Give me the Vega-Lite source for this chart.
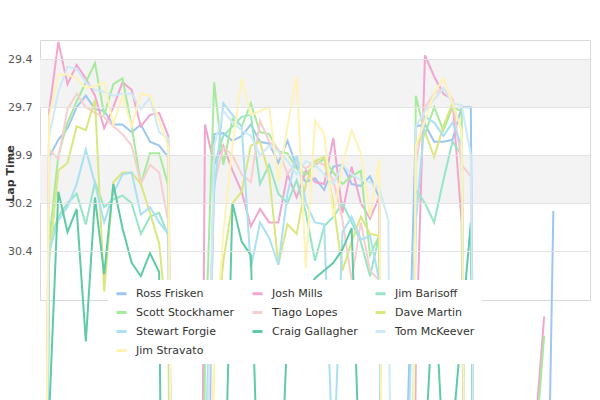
{
  "$schema": "https://vega.github.io/schema/vega-lite/v6.json",
  "width": 550,
  "height": 260,
  "autosize": {"type": "none"},
  "padding": {"left": 40, "top": 40, "right": 10, "bottom": 100},
  "background": "white",
  "config": {"view": {"stroke": "#d9d9d9"}, "font": "DejaVu Sans"},
  "layer": [
    {
      "data": {"values": [{"lo": 29.45, "hi": 29.7}, {"lo": 29.95, "hi": 30.2}]},
      "mark": {"type": "rect", "color": "#f3f3f3"},
      "encoding": {
        "y": {"field": "lo", "type": "quantitative",
          "scale": {"domain": [29.35, 30.704], "reverse": true, "nice": false, "zero": false},
          "axis": {"title": "Lap Time", "values": [29.45, 29.7, 29.95, 30.2, 30.45], "labelExpr": "format(datum.value - 0.01, '.1f')", "grid": true, "gridColor": "#e3e3e3", "domain": false, "ticks": false, "labelPadding": 8, "labelFontSize": 11, "labelColor": "#555555", "labelFont": "DejaVu Sans", "titleFont": "DejaVu Sans", "titleFontSize": 11, "titleFontWeight": "bold", "titleColor": "#333333", "titleX": -30, "titleY": 133, "titleAngle": 270, "titleAlign": "center", "titleBaseline": "middle", "zindex": 1}},
        "y2": {"field": "hi"}
      }
    },
    {
      "data": {"values": [
        {"lap": 1, "Ross Frisken": 36, "Josh Mills": 36, "Jim Barisoff": 36, "Scott Stockhamer": 36, "Tiago Lopes": 36, "Dave Martin": 36, "Stewart Forgie": 36, "Craig Gallagher": 36, "Tom McKeever": 36, "Jim Stravato": 36},
        {"lap": 2, "Ross Frisken": 29.96, "Josh Mills": 29.72, "Jim Barisoff": 30.4, "Scott Stockhamer": 30.4, "Tiago Lopes": 29.92, "Dave Martin": 30.5, "Stewart Forgie": 30.45, "Craig Gallagher": 31.3, "Tom McKeever": 29.85, "Jim Stravato": 29.75},
        {"lap": 3, "Ross Frisken": 29.87, "Josh Mills": 29.36, "Jim Barisoff": 30.27, "Scott Stockhamer": 29.95, "Tiago Lopes": 29.97, "Dave Martin": 30.03, "Stewart Forgie": 30.29, "Craig Gallagher": 30.14, "Tom McKeever": 29.62, "Jim Stravato": 29.53},
        {"lap": 4, "Ross Frisken": 29.81, "Josh Mills": 29.58, "Jim Barisoff": 30.2, "Scott Stockhamer": 29.78, "Tiago Lopes": 29.71, "Dave Martin": 29.99, "Stewart Forgie": 30.22, "Craig Gallagher": 30.35, "Tom McKeever": 29.49, "Jim Stravato": 29.53},
        {"lap": 5, "Ross Frisken": 29.7, "Josh Mills": 29.48, "Jim Barisoff": 30.15, "Scott Stockhamer": 29.67, "Tiago Lopes": 29.63, "Dave Martin": 29.8, "Stewart Forgie": 30.1, "Craig Gallagher": 30.23, "Tom McKeever": 29.5, "Jim Stravato": 29.55},
        {"lap": 6, "Ross Frisken": 29.64, "Josh Mills": 29.55, "Jim Barisoff": 30.31, "Scott Stockhamer": 29.57, "Tiago Lopes": 29.7, "Dave Martin": 29.82, "Stewart Forgie": 29.92, "Craig Gallagher": 30.92, "Tom McKeever": 29.57, "Jim Stravato": 29.6},
        {"lap": 7, "Ross Frisken": 29.71, "Josh Mills": 29.64, "Jim Barisoff": 30.09, "Scott Stockhamer": 29.47, "Tiago Lopes": 29.73, "Dave Martin": 29.66, "Stewart Forgie": 30.1, "Craig Gallagher": 30.17, "Tom McKeever": 29.61, "Jim Stravato": 29.59},
        {"lap": 8, "Ross Frisken": 29.72, "Josh Mills": 29.81, "Jim Barisoff": 30.22, "Scott Stockhamer": 29.74, "Tiago Lopes": 29.75, "Dave Martin": 30.66, "Stewart Forgie": 30.3, "Craig Gallagher": 30.57, "Tom McKeever": 29.62, "Jim Stravato": 29.57},
        {"lap": 9, "Ross Frisken": 29.79, "Josh Mills": 29.7, "Jim Barisoff": 30.18, "Scott Stockhamer": 29.58, "Tiago Lopes": 29.8, "Dave Martin": 30.09, "Stewart Forgie": 30.15, "Craig Gallagher": 30.1, "Tom McKeever": 29.64, "Jim Stravato": 29.79},
        {"lap": 10, "Ross Frisken": 29.79, "Josh Mills": 29.57, "Jim Barisoff": 30.16, "Scott Stockhamer": 29.55, "Tiago Lopes": 29.84, "Dave Martin": 30.04, "Stewart Forgie": 30.05, "Craig Gallagher": 30.33, "Tom McKeever": 29.63, "Jim Stravato": 29.64},
        {"lap": 11, "Ross Frisken": 29.83, "Josh Mills": 29.61, "Jim Barisoff": 30.2, "Scott Stockhamer": 29.8, "Tiago Lopes": 29.9, "Dave Martin": 30.04, "Stewart Forgie": 30.04, "Craig Gallagher": 30.51, "Tom McKeever": 29.63, "Jim Stravato": 29.8},
        {"lap": 12, "Ross Frisken": 29.79, "Josh Mills": 29.8, "Jim Barisoff": 30.36, "Scott Stockhamer": 30.1, "Tiago Lopes": 30.1, "Dave Martin": 30.1, "Stewart Forgie": 30.26, "Craig Gallagher": 30.58, "Tom McKeever": 29.71, "Jim Stravato": 29.63},
        {"lap": 13, "Ross Frisken": 29.88, "Josh Mills": 29.74, "Jim Barisoff": 30.27, "Scott Stockhamer": 29.94, "Tiago Lopes": 30.0, "Dave Martin": 30.25, "Stewart Forgie": 30.22, "Craig Gallagher": 30.46, "Tom McKeever": 29.65, "Jim Stravato": 29.64},
        {"lap": 14, "Ross Frisken": 29.9, "Josh Mills": 29.73, "Jim Barisoff": 30.25, "Scott Stockhamer": 29.94, "Tiago Lopes": 30.04, "Dave Martin": 30.41, "Stewart Forgie": 30.3, "Craig Gallagher": 30.56, "Tom McKeever": 29.83, "Jim Stravato": 29.77},
        {"lap": 15, "Ross Frisken": 29.96, "Josh Mills": 29.85, "Jim Barisoff": 30.37, "Scott Stockhamer": 30.11, "Tiago Lopes": 30.3, "Dave Martin": 30.9, "Stewart Forgie": 30.36, "Craig Gallagher": 36, "Tom McKeever": 29.86, "Jim Stravato": 29.91},
        {"lap": 16, "Ross Frisken": 36, "Josh Mills": 36, "Jim Barisoff": 36, "Scott Stockhamer": 36, "Tiago Lopes": 36, "Dave Martin": 36, "Stewart Forgie": 36, "Craig Gallagher": 36, "Tom McKeever": 36, "Jim Stravato": 36},
        {"lap": 17, "Ross Frisken": 36, "Josh Mills": 36, "Jim Barisoff": 36, "Scott Stockhamer": 36, "Tiago Lopes": 36, "Dave Martin": 36, "Stewart Forgie": 36, "Craig Gallagher": 36, "Tom McKeever": 36, "Jim Stravato": 36},
        {"lap": 18, "Ross Frisken": 36, "Josh Mills": 36, "Jim Barisoff": 36, "Scott Stockhamer": 36, "Tiago Lopes": 36, "Dave Martin": 36, "Stewart Forgie": 36, "Craig Gallagher": 36, "Tom McKeever": 36, "Jim Stravato": 36},
        {"lap": 19, "Ross Frisken": 33, "Josh Mills": 29.79, "Jim Barisoff": 32, "Scott Stockhamer": 31.0, "Tiago Lopes": 32, "Dave Martin": 33, "Stewart Forgie": 31.5, "Craig Gallagher": 36, "Tom McKeever": 32, "Jim Stravato": 33},
        {"lap": 20, "Ross Frisken": 29.84, "Josh Mills": 30.0, "Jim Barisoff": 30.0, "Scott Stockhamer": 29.57, "Tiago Lopes": 30.1, "Dave Martin": 31.0, "Stewart Forgie": 30.14, "Craig Gallagher": 36, "Tom McKeever": 29.9, "Jim Stravato": 31.0},
        {"lap": 21, "Ross Frisken": 29.835, "Josh Mills": 29.9, "Jim Barisoff": 29.85, "Scott Stockhamer": 30.0, "Tiago Lopes": 29.91, "Dave Martin": 30.5, "Stewart Forgie": 29.68, "Craig Gallagher": 32, "Tom McKeever": 29.72, "Jim Stravato": 30.36},
        {"lap": 22, "Ross Frisken": 29.875, "Josh Mills": 30.03, "Jim Barisoff": 29.8, "Scott Stockhamer": 29.76, "Tiago Lopes": 29.95, "Dave Martin": 30.2, "Stewart Forgie": 29.74, "Craig Gallagher": 30.2, "Tom McKeever": 29.78, "Jim Stravato": 29.9},
        {"lap": 23, "Ross Frisken": 29.85, "Josh Mills": 30.14, "Jim Barisoff": 29.75, "Scott Stockhamer": 29.8, "Tiago Lopes": 30.05, "Dave Martin": 30.14, "Stewart Forgie": 29.8, "Craig Gallagher": 30.4, "Tom McKeever": 29.82, "Jim Stravato": 29.55},
        {"lap": 24, "Ross Frisken": 29.79, "Josh Mills": 30.32, "Jim Barisoff": 29.74, "Scott Stockhamer": 29.68, "Tiago Lopes": 30.09, "Dave Martin": 29.9, "Stewart Forgie": 30.54, "Craig Gallagher": 30.47, "Tom McKeever": 29.85, "Jim Stravato": 29.74},
        {"lap": 25, "Ross Frisken": 29.88, "Josh Mills": 30.23, "Jim Barisoff": 30.1, "Scott Stockhamer": 29.83, "Tiago Lopes": 29.77, "Dave Martin": 29.88, "Stewart Forgie": 30.3, "Craig Gallagher": 32, "Tom McKeever": 29.95, "Jim Stravato": 29.72},
        {"lap": 26, "Ross Frisken": 29.89, "Josh Mills": 30.3, "Jim Barisoff": 30.0, "Scott Stockhamer": 29.84, "Tiago Lopes": 29.88, "Dave Martin": 30.05, "Stewart Forgie": 30.38, "Craig Gallagher": 31.6, "Tom McKeever": 29.9, "Jim Stravato": 29.7},
        {"lap": 27, "Ross Frisken": 29.99, "Josh Mills": 30.3, "Jim Barisoff": 30.15, "Scott Stockhamer": 29.93, "Tiago Lopes": 29.92, "Dave Martin": 30.52, "Stewart Forgie": 30.52, "Craig Gallagher": 32, "Tom McKeever": 29.93, "Jim Stravato": 30.09},
        {"lap": 28, "Ross Frisken": 29.875, "Josh Mills": 30.05, "Jim Barisoff": 30.2, "Scott Stockhamer": 29.94, "Tiago Lopes": 30.05, "Dave Martin": 30.31, "Stewart Forgie": 30.15, "Craig Gallagher": 30.85, "Tom McKeever": 29.98, "Jim Stravato": 29.8},
        {"lap": 29, "Ross Frisken": 30.01, "Josh Mills": 30.17, "Jim Barisoff": 30.08, "Scott Stockhamer": 30.02, "Tiago Lopes": 29.98, "Dave Martin": 30.36, "Stewart Forgie": 29.95, "Craig Gallagher": 30.75, "Tom McKeever": 30.05, "Jim Stravato": 29.54},
        {"lap": 30, "Ross Frisken": 30.09, "Josh Mills": 30.03, "Jim Barisoff": 30.25, "Scott Stockhamer": 30.05, "Tiago Lopes": 30.02, "Dave Martin": 30.1, "Stewart Forgie": 30.2, "Craig Gallagher": 30.68, "Tom McKeever": 29.98, "Jim Stravato": 30.54},
        {"lap": 31, "Ross Frisken": 30.07, "Josh Mills": 30.09, "Jim Barisoff": 30.5, "Scott Stockhamer": 30.0, "Tiago Lopes": 29.98, "Dave Martin": 29.98, "Stewart Forgie": 30.3, "Craig Gallagher": 30.59, "Tom McKeever": 30.0, "Jim Stravato": 29.77},
        {"lap": 32, "Ross Frisken": 30.13, "Josh Mills": 30.1, "Jim Barisoff": 30.32, "Scott Stockhamer": 29.97, "Tiago Lopes": 30.0, "Dave Martin": 29.96, "Stewart Forgie": 30.31, "Craig Gallagher": 30.55, "Tom McKeever": 30.05, "Jim Stravato": 29.84},
        {"lap": 33, "Ross Frisken": 30.01, "Josh Mills": 29.86, "Jim Barisoff": 30.27, "Scott Stockhamer": 30.04, "Tiago Lopes": 30.08, "Dave Martin": 30.2, "Stewart Forgie": 31.6, "Craig Gallagher": 30.51, "Tom McKeever": 30.1, "Jim Stravato": 30.27},
        {"lap": 34, "Ross Frisken": 30.0, "Josh Mills": 30.25, "Jim Barisoff": 30.2, "Scott Stockhamer": 30.1, "Tiago Lopes": 30.29, "Dave Martin": 30.55, "Stewart Forgie": 30.35, "Craig Gallagher": 30.44, "Tom McKeever": 30.0, "Jim Stravato": 30.0},
        {"lap": 35, "Ross Frisken": 30.1, "Josh Mills": 30.01, "Jim Barisoff": 30.3, "Scott Stockhamer": 30.06, "Tiago Lopes": 30.6, "Dave Martin": 30.4, "Stewart Forgie": 30.27, "Craig Gallagher": 30.33, "Tom McKeever": 30.05, "Jim Stravato": 29.82},
        {"lap": 36, "Ross Frisken": 30.11, "Josh Mills": 30.2, "Jim Barisoff": 30.4, "Scott Stockhamer": 30.03, "Tiago Lopes": 30.3, "Dave Martin": 30.27, "Stewart Forgie": 30.39, "Craig Gallagher": 31.8, "Tom McKeever": 30.08, "Jim Stravato": 29.94},
        {"lap": 37, "Ross Frisken": 30.06, "Josh Mills": 30.28, "Jim Barisoff": 30.58, "Scott Stockhamer": 30.47, "Tiago Lopes": 30.55, "Dave Martin": 30.36, "Stewart Forgie": 30.37, "Craig Gallagher": 36, "Tom McKeever": 30.09, "Jim Stravato": 30.27},
        {"lap": 38, "Ross Frisken": 30.17, "Josh Mills": 30.17, "Jim Barisoff": 30.37, "Scott Stockhamer": 30.37, "Tiago Lopes": 30.6, "Dave Martin": 30.37, "Stewart Forgie": 30.6, "Craig Gallagher": 36, "Tom McKeever": 30.12, "Jim Stravato": 29.97},
        {"lap": 39, "Ross Frisken": 36, "Josh Mills": 36, "Jim Barisoff": 36, "Scott Stockhamer": 36, "Tiago Lopes": 36, "Dave Martin": 36, "Stewart Forgie": 36, "Craig Gallagher": 36, "Tom McKeever": 30.29, "Jim Stravato": 36},
        {"lap": 40, "Ross Frisken": 36, "Josh Mills": 36, "Jim Barisoff": 36, "Scott Stockhamer": 36, "Tiago Lopes": 36, "Dave Martin": 36, "Stewart Forgie": 36, "Craig Gallagher": 36, "Tom McKeever": 36, "Jim Stravato": 36},
        {"lap": 41, "Ross Frisken": 31.5, "Josh Mills": 36, "Jim Barisoff": 36, "Scott Stockhamer": 36, "Tiago Lopes": 36, "Dave Martin": 36, "Stewart Forgie": 31.6, "Craig Gallagher": 36, "Tom McKeever": 36, "Jim Stravato": 36},
        {"lap": 42, "Ross Frisken": 29.8, "Josh Mills": 31.0, "Jim Barisoff": 30.13, "Scott Stockhamer": 29.64, "Tiago Lopes": 30.0, "Dave Martin": 29.9, "Stewart Forgie": 30.3, "Craig Gallagher": 36, "Tom McKeever": 29.8, "Jim Stravato": 29.9},
        {"lap": 43, "Ross Frisken": 29.79, "Josh Mills": 29.43, "Jim Barisoff": 30.2, "Scott Stockhamer": 29.84, "Tiago Lopes": 29.7, "Dave Martin": 29.83, "Stewart Forgie": 29.75, "Craig Gallagher": 31.5, "Tom McKeever": 29.72, "Jim Stravato": 29.77},
        {"lap": 44, "Ross Frisken": 29.88, "Josh Mills": 29.54, "Jim Barisoff": 30.3, "Scott Stockhamer": 29.7, "Tiago Lopes": 29.63, "Dave Martin": 29.96, "Stewart Forgie": 29.78, "Craig Gallagher": 30.6, "Tom McKeever": 29.66, "Jim Stravato": 29.63},
        {"lap": 45, "Ross Frisken": 29.88, "Josh Mills": 29.63, "Jim Barisoff": 30.08, "Scott Stockhamer": 29.82, "Tiago Lopes": 29.6, "Dave Martin": 29.8, "Stewart Forgie": 29.85, "Craig Gallagher": 31.5, "Tom McKeever": 29.6, "Jim Stravato": 29.55},
        {"lap": 46, "Ross Frisken": 29.87, "Josh Mills": 29.66, "Jim Barisoff": 29.88, "Scott Stockhamer": 29.7, "Tiago Lopes": 29.66, "Dave Martin": 29.68, "Stewart Forgie": 29.78, "Craig Gallagher": 31.4, "Tom McKeever": 29.68, "Jim Stravato": 29.68},
        {"lap": 47, "Ross Frisken": 29.7, "Josh Mills": 30.3, "Jim Barisoff": 29.95, "Scott Stockhamer": 29.72, "Tiago Lopes": 30.0, "Dave Martin": 29.82, "Stewart Forgie": 29.9, "Craig Gallagher": 30.85, "Tom McKeever": 29.69, "Jim Stravato": 29.82},
        {"lap": 48, "Ross Frisken": 29.7, "Josh Mills": 36, "Jim Barisoff": 36, "Scott Stockhamer": 36, "Tiago Lopes": 30.06, "Dave Martin": 36, "Stewart Forgie": 36, "Craig Gallagher": 30.3, "Tom McKeever": 29.95, "Jim Stravato": 36},
        {"lap": 49, "Ross Frisken": 36, "Josh Mills": 36, "Scott Stockhamer": 36, "Tiago Lopes": 36, "Craig Gallagher": 36, "Tom McKeever": 36},
        {"lap": 50, "Ross Frisken": 36, "Josh Mills": 36, "Scott Stockhamer": 36, "Tom McKeever": 31.25},
        {"lap": 51, "Ross Frisken": 31.25, "Josh Mills": 36, "Scott Stockhamer": 36, "Tom McKeever": 36},
        {"lap": 52, "Ross Frisken": 36, "Josh Mills": 36, "Scott Stockhamer": 36},
        {"lap": 53, "Ross Frisken": 36, "Josh Mills": 36, "Scott Stockhamer": 36},
        {"lap": 54, "Ross Frisken": 36, "Josh Mills": 36, "Scott Stockhamer": 36},
        {"lap": 55, "Ross Frisken": 36, "Josh Mills": 31.4, "Scott Stockhamer": 31.5},
        {"lap": 56, "Ross Frisken": 33, "Josh Mills": 30.79, "Scott Stockhamer": 30.89},
        {"lap": 57, "Ross Frisken": 30.24}
      ]},
      "transform": [
        {"fold": ["Ross Frisken", "Josh Mills", "Jim Barisoff", "Scott Stockhamer", "Tiago Lopes", "Dave Martin", "Stewart Forgie", "Craig Gallagher", "Tom McKeever", "Jim Stravato"], "as": ["driver", "time"]},
        {"filter": "isValid(datum.time)"}
      ],
      "mark": {"type": "line", "strokeWidth": 2, "clip": false},
      "encoding": {
        "x": {"field": "lap", "type": "quantitative", "scale": {"domain": [1, 61], "nice": false, "zero": false}, "axis": null},
        "y": {"field": "time", "type": "quantitative",
          "scale": {"domain": [29.35, 30.704], "reverse": true, "nice": false, "zero": false},
          "axis": {"title": "Lap Time", "values": [29.45, 29.7, 29.95, 30.2, 30.45], "labelExpr": "format(datum.value - 0.01, '.1f')", "grid": true, "gridColor": "#e3e3e3", "domain": false, "ticks": false, "labelPadding": 8, "labelFontSize": 11, "labelColor": "#555555", "labelFont": "DejaVu Sans", "titleFont": "DejaVu Sans", "titleFontSize": 11, "titleFontWeight": "bold", "titleColor": "#333333", "titleX": -30, "titleY": 133, "titleAngle": 270, "titleAlign": "center", "titleBaseline": "middle", "zindex": 1}},
        "color": {"field": "driver", "type": "nominal",
          "scale": {"domain": ["Ross Frisken", "Josh Mills", "Jim Barisoff", "Scott Stockhamer", "Tiago Lopes", "Dave Martin", "Stewart Forgie", "Craig Gallagher", "Tom McKeever", "Jim Stravato"],
                    "range": ["#9ec6f2", "#f2a6cf", "#96e6c6", "#a6eb9c", "#f7cfcf", "#dbe67f", "#a9e0f2", "#5fcba6", "#cfe9f7", "#fff3b5"]},
          "legend": {"title": null, "orient": "none", "direction": "horizontal", "legendX": 68, "legendY": 240, "columns": 3, "symbolType": "stroke", "symbolStrokeWidth": 3, "symbolSize": 100, "labelFontSize": 11, "labelColor": "#333333", "labelFont": "DejaVu Sans", "fillColor": "white", "padding": 7, "columnPadding": 11, "rowPadding": 6, "labelOffset": 8, "labelLimit": 200}}
      }
    }
  ]
}
